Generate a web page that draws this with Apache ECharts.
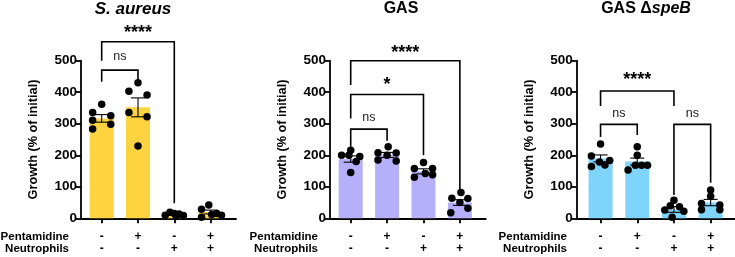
<!DOCTYPE html>
<html>
<head>
<meta charset="utf-8">
<script src="https://cdn.jsdelivr.net/npm/echarts@6/dist/echarts.min.js"></script>
<style>
html, body { margin: 0; padding: 0; background: #fff; }
#main { width: 735px; height: 257px; }
</style>
</head>
<body>
<div id="main"></div>
<script>
// 条件标签
var pentamidine = ['-', '+', '-', '+'];
var neutrophils = ['-', '-', '+', '+'];
var groupIndex = [0, 1, 2, 3];

// S. aureus
var saMean = [317, 352, 12, 20];
var saSem = [12, 30, 3, 6];
// [group, jitter, value]
var saDots = [
    [0, 0, 362], [0, -0.25, 336], [0, 0.25, 325], [0, -0.25, 311], [0, 0.25, 298], [0, -0.25, 283],
    [1, 0, 430], [1, -0.25, 403], [1, 0.25, 391], [1, -0.25, 336], [1, 0.25, 322], [1, 0, 229],
    [2, -0.25, 10], [2, -0.12, 19], [2, 0, 15], [2, 0.05, 6], [2, 0.13, 14], [2, 0.25, 9],
    [3, -0.05, 42], [3, -0.25, 29], [3, -0.25, 3], [3, 0.03, 12], [3, 0.17, 15], [3, 0.3, 10]
];
// [from, to, top, leftEnd, rightEnd, labelValue]
var saSig = [[0, 1, 470, 433, 442, 513], [0, 2, 560, 500, 48, 587]];
var saSigText = ['ns', '****'];

// GAS
var gasMean = [188, 201, 149, 50];
var gasSem = [10, 8, 8, 9];
var gasDots = [
    [0, 0, 216], [0, -0.25, 200], [0, 0.25, 196], [0, -0.05, 200], [0, 0.15, 180], [0, 0, 145],
    [1, 0.03, 227], [1, -0.25, 208], [1, 0.25, 207], [1, 0, 200], [1, -0.25, 185], [1, 0.25, 182],
    [2, 0, 177], [2, -0.25, 158], [2, 0.25, 158], [2, -0.25, 130], [2, 0.05, 142], [2, 0.25, 138],
    [3, 0.03, 82], [3, -0.22, 64], [3, 0.22, 63], [3, 0, 50], [3, 0.22, 32], [3, -0.25, 18]
];
var gasSig = [[0, 1, 283, 227, 246, 320], [0, 2, 393, 317, 200, 422], [0, 3, 500, 423, 90, 525]];
var gasSigText = ['ns', '*', '****'];

// GAS ΔspeB
var speMean = [190, 180, 28, 50];
var speSem = [11, 11, 9, 10];
var speDots = [
    [0, 0, 236], [0, -0.25, 198], [0, 0.25, 183], [0, -0.03, 179], [0, 0.12, 169], [0, -0.25, 164],
    [1, 0, 227], [1, 0, 200], [1, -0.25, 153], [1, -0.05, 168], [1, 0.12, 168], [1, 0.28, 168],
    [2, 0, 57], [2, -0.1, 40], [2, 0.15, 37], [2, -0.25, 26], [2, 0.27, 22], [2, -0.05, 3],
    [3, 0, 90], [3, 0, 70], [3, -0.25, 47], [3, 0.25, 42], [3, -0.25, 27], [3, 0.25, 27]
];
var speSig = [[0, 2, 404, 356, 356, 439], [0, 1, 298, 258, 264, 333], [2, 3, 298, 74, 113, 333]];
var speSigText = ['****', 'ns', 'ns'];

var FONT = '"Liberation Sans", Arial, sans-serif';

var panels = [
    {mean: saMean, sem: saSem, dots: saDots, sig: saSig, sigText: saSigText, color: '#FDD33F',
     grid: {left: 81, right: 499, top: 60.7, bottom: 38.7}, xMin: -0.57, xMax: 3.7},
    {mean: gasMean, sem: gasSem, dots: gasDots, sig: gasSig, sigText: gasSigText, color: '#B5B0F9',
     grid: {left: 330, right: 249.3, top: 60.7, bottom: 38.7}, xMin: -0.569, xMax: 3.71},
    {mean: speMean, sem: speSem, dots: speDots, sig: speSig, sigText: speSigText, color: '#7ED4FA',
     grid: {left: 576.7, right: 0.5, top: 60.7, bottom: 38.7}, xMin: -0.65, xMax: 3.65}
];

var option = {
    animation: false,
    textStyle: {fontFamily: FONT},
    grid: [], xAxis: [], yAxis: [], series: [],
    graphic: []
};

panels.forEach(function (p, k) {
    option.grid.push(p.grid);
    option.xAxis.push({
        type: 'value', gridIndex: k, min: p.xMin, max: p.xMax,
        splitLine: {show: false},
        axisLine: {show: true, onZero: false, lineStyle: {color: '#000', width: 1.8}},
        axisTick: {show: true, customValues: groupIndex, length: 5, lineStyle: {color: '#000', width: 1.8}},
        axisLabel: {
            show: true, customValues: groupIndex, margin: 13,
            color: '#000', fontWeight: 'bold', fontSize: 12, lineHeight: 11.5, fontFamily: FONT,
            formatter: function (v) {
                var i = Math.round(v);
                return pentamidine[i] + '\n' + neutrophils[i];
            }
        }
    });
    option.yAxis.push({
        type: 'value', gridIndex: k, min: 0, max: 500, interval: 100,
        splitLine: {show: false},
        axisLine: {show: true, onZero: false, lineStyle: {color: '#000', width: 1.8}},
        axisTick: {show: true, length: 5, lineStyle: {color: '#000', width: 1.8}},
        axisLabel: {color: '#000', fontWeight: 'bold', fontSize: 13.5, margin: 4, fontFamily: FONT},
        name: 'Growth (% of initial)', nameLocation: 'middle', nameGap: 41,
        nameTextStyle: {color: '#000', fontWeight: 'bold', fontSize: 12.7, fontFamily: FONT}
    });

    // 柱
    option.series.push({
        type: 'bar', xAxisIndex: k, yAxisIndex: k, barWidth: 24, z: 1,
        itemStyle: {color: p.color},
        data: p.mean.map(function (m, i) { return [groupIndex[i], m]; })
    });

    // 误差线
    option.series.push({
        type: 'custom', xAxisIndex: k, yAxisIndex: k, z: 3,
        data: p.mean.map(function (m, i) { return [groupIndex[i], m, p.sem[i]]; }),
        renderItem: function (params, api) {
            var x = api.value(0), m = api.value(1), s = api.value(2);
            var top = api.coord([x, m + s]);
            var bot = api.coord([x, m - s]);
            var half = 7;
            var st = {stroke: '#000', lineWidth: 1.1};
            return {type: 'group', children: [
                {type: 'line', shape: {x1: top[0], y1: top[1], x2: bot[0], y2: bot[1]}, style: st},
                {type: 'line', shape: {x1: top[0] - half, y1: top[1], x2: top[0] + half, y2: top[1]}, style: st},
                {type: 'line', shape: {x1: bot[0] - half, y1: bot[1], x2: bot[0] + half, y2: bot[1]}, style: st}
            ]};
        }
    });

    // 散点
    option.series.push({
        type: 'scatter', xAxisIndex: k, yAxisIndex: k, z: 4,
        symbolSize: 7.5, itemStyle: {color: '#000', opacity: 1},
        data: p.dots.map(function (d) { return [d[0] + d[1], d[2]]; })
    });

    // 显著性标记
    option.series.push({
        type: 'custom', xAxisIndex: k, yAxisIndex: k, z: 2, clip: false,
        data: p.sig,
        renderItem: function (params, api) {
            var x1 = api.value(0), x2 = api.value(1), t = api.value(2);
            var a = api.coord([x1, api.value(3)]);
            var b = api.coord([x1, t]);
            var c = api.coord([x2, t]);
            var d = api.coord([x2, api.value(4)]);
            var lp = api.coord([(x1 + x2) / 2, api.value(5)]);
            var txt = p.sigText[params.dataIndex];
            var isNs = txt === 'ns';
            return {type: 'group', children: [
                {type: 'polyline', shape: {points: [a, b, c, d]},
                 style: {stroke: '#000', lineWidth: 1.6, fill: null}},
                {type: 'text', x: lp[0], y: lp[1],
                 style: {text: txt, align: 'center', verticalAlign: 'middle',
                         fill: isNs ? '#222' : '#000',
                         fontSize: isNs ? 12.5 : 18, fontWeight: isNs ? 'normal' : 'bold',
                         fontFamily: FONT}}
            ]};
        }
    });
});

// 标题 与 行标签
option.graphic = [
    {type: 'text', x: 133, y: 9, style: {text: 'S. aureus', align: 'center', verticalAlign: 'middle',
        fontSize: 17, fontWeight: 'bold', fontStyle: 'italic', fontFamily: FONT, fill: '#000'}},
    {type: 'text', x: 401, y: 9, style: {text: 'GAS', align: 'center', verticalAlign: 'middle',
        fontSize: 16, fontWeight: 'bold', fontFamily: FONT, fill: '#000'}},
    {type: 'text', x: 646, y: 9, style: {text: '{a|GAS Δ}{b|speB}', align: 'center', verticalAlign: 'middle',
        rich: {
            a: {fontSize: 16, fontWeight: 'bold', fontFamily: FONT, fill: '#000'},
            b: {fontSize: 16, fontWeight: 'bold', fontStyle: 'italic', fontFamily: FONT, fill: '#000'}
        }}}
];
[[69, 237, 'Pentamidine'], [69, 248.5, 'Neutrophils'],
 [318, 237, 'Pentamidine'], [318, 248.5, 'Neutrophils'],
 [567, 237, 'Pentamidine'], [567, 248.5, 'Neutrophils']].forEach(function (r) {
    option.graphic.push({type: 'text', x: r[0], y: r[1], style: {text: r[2], align: 'right',
        verticalAlign: 'middle', fontSize: 11.5, fontWeight: 'bold', fontFamily: FONT, fill: '#000'}});
});

var chart = echarts.init(document.getElementById('main'));
chart.setOption(option);
</script>
</body>
</html>
